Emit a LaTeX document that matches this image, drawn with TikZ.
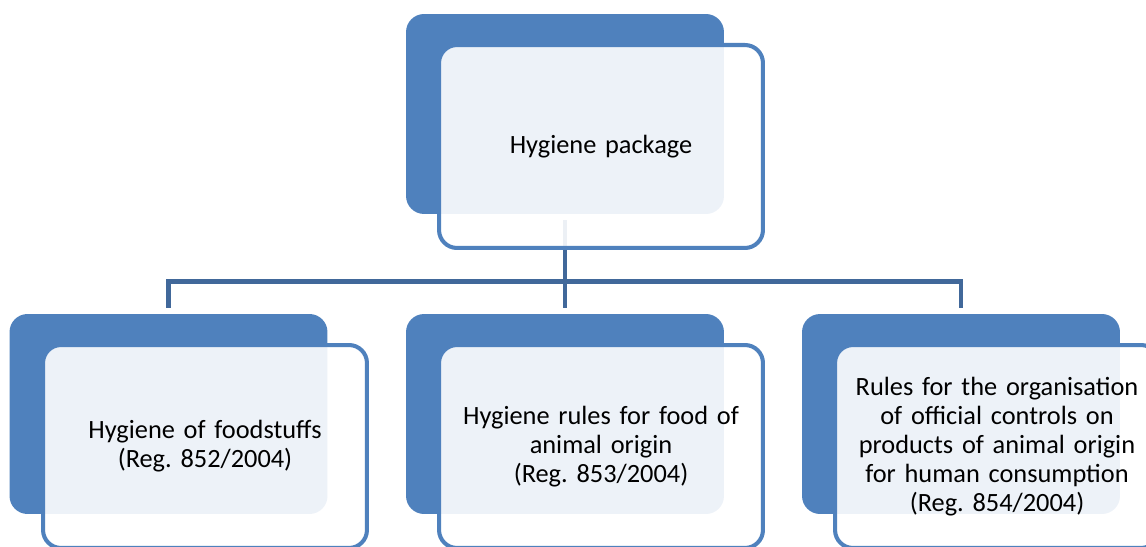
\documentclass[tikz,border=0pt]{standalone}
\usepackage{fontspec}
\setmainfont{Carlito}
\usepackage{xcolor}
\usepackage{tikz}
\frenchspacing

\begin{document}
\begin{tikzpicture}[x=0.02cm, y=-0.02cm,
    back/.style={fill=boxblue, rounded corners=0.36cm, minimum width=6.36cm,
        minimum height=4cm, inner sep=0pt},
    card/.style={draw=boxblue, line width=2.3pt, fill=white, fill opacity=0.9,
        text opacity=1, rounded corners=0.36cm, minimum width=6.48cm,
        minimum height=4.06cm, text width=6.2cm, align=center, inner sep=0pt,
        font=\fontsize{15}{16.6}\selectfont},
    link/.style={draw=linkblue, line width=2.5pt}]
    % Colours of the chart
    \definecolor{boxblue}{RGB}{79, 129, 189}  % blue of the boxes
    \definecolor{linkblue}{RGB}{65, 104, 154} % darker blue of the lines

    \useasboundingbox (0,0) rectangle (1146,547);

    % 1. Dark boxes behind
    \node[back] (top-back) at (565,114) {};
    \node[back] (left-back) at (168.5,414) {};
    \node[back] (mid-back) at (565,414) {};
    \node[back] (right-back) at (961,414) {};

    % 2. Connectors
    \draw[link, shorten <=0.12cm] (top-back.south) -- ++(0,67) coordinate (bus);
    \draw[link, shorten >=0.12cm] (bus) -| (left-back.north);
    \draw[link, shorten >=0.12cm] (bus) -- (mid-back.north);
    \draw[link, shorten >=0.12cm] (bus) -| (right-back.north);

    % 3. Cards with the texts
    \node[card] (top-card) at (601,146.5) {Hygiene package};
    \node[card] (left-card) at (205,446.5)
        {Hygiene of foodstuffs\\(Reg. 852/2004)};
    \node[card] (mid-card) at (601,446.5)
        {Hygiene rules for food of\\animal origin\\(Reg. 853/2004)};
    \node[card] (right-card) at (997,446.5)
        {Rules for the organisation\\of official controls on\\products of animal origin\\for human consumption\\(Reg. 854/2004)};
\end{tikzpicture}
\end{document}
